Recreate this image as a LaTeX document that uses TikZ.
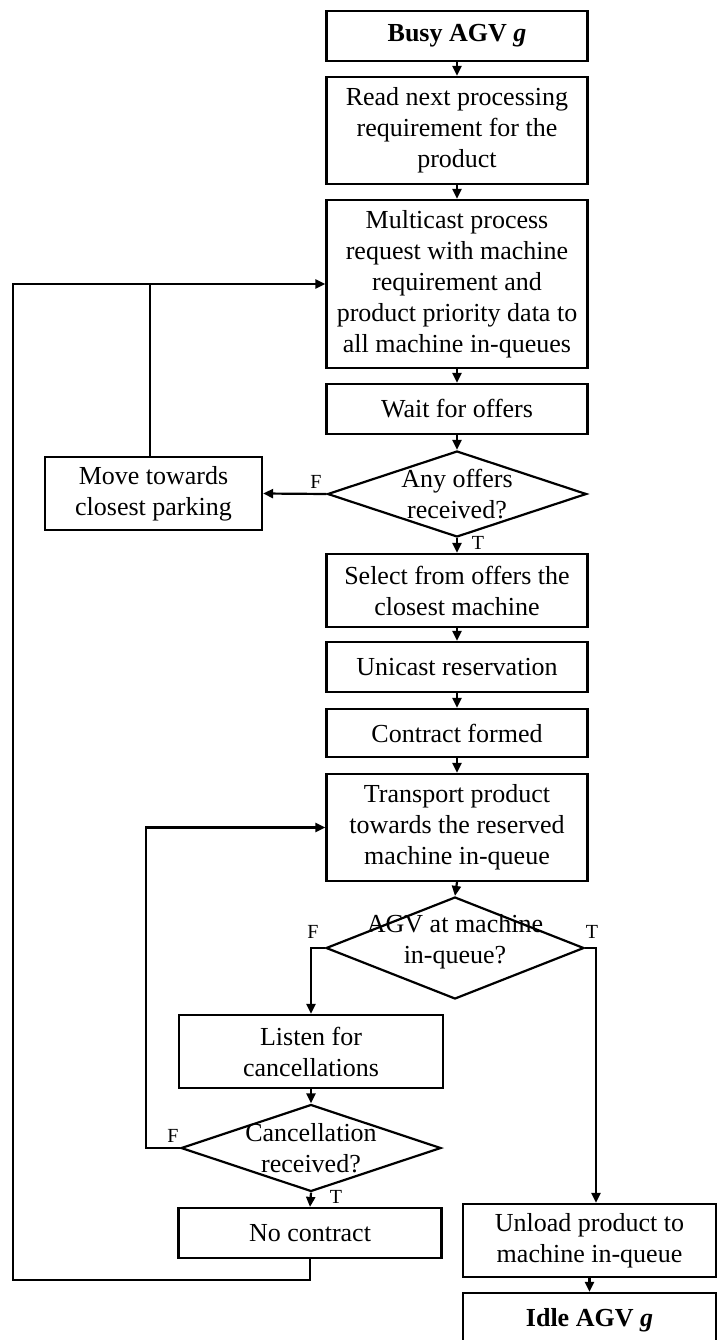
\documentclass[tikz,border=0pt]{standalone}
\usepackage{fontspec}
\setmainfont{Liberation Serif}
\usetikzlibrary{shapes.geometric,arrows.meta}
\begin{document}
\begin{tikzpicture}[x=1pt,y=-1pt,
  txt/.style={font=\fontsize{26}{31}\selectfont},
  box/.style={draw,line width=2.2pt,align=center,inner sep=2pt,txt,minimum width=261pt},
  dia/.style={draw,diamond,line width=2.2pt,inner sep=0pt},
  dtext/.style={align=center,inner sep=0pt,txt},
  lab/.style={font=\fontsize{20}{22}\selectfont,inner sep=0pt},
  ln/.style={line width=2.2pt},
  arr/.style={line width=2.2pt,-{Triangle[length=10pt,width=9pt]}}]
\fill[white] (0,0) rectangle (717,1340);
\clip (0,0) rectangle (717,1340);
\useasboundingbox (0,0) rectangle (717,1340);

\node[box,minimum height=50pt] (busy) at (457,36) {\textbf{Busy AGV \textit{g}}};
\node[box,minimum height=107pt] (read) at (457,130.5) {Read next processing\\requirement for the\\product};
\node[box,minimum height=168pt] (multi) at (457,284) {Multicast process\\request with machine\\requirement and\\product priority data to\\all machine in-queues};
\node[box,minimum height=50pt] (wait) at (457,409) {Wait for offers};
\node[dia,minimum width=259pt,minimum height=86pt] (d1) at (457,494) {};
\node[dtext] (d1t) at (d1.center) {Any offers\\received?};
\node[box,minimum width=217pt,minimum height=73pt] (move) at (153.5,493.5) {Move towards\\closest parking};
\node[box,minimum height=73pt] (select) at (457,590.5) {Select from offers the\\closest machine};
\node[box,minimum height=50pt] (uni) at (457,667) {Unicast reservation};
\node[box,minimum height=48pt] (contract) at (457,733) {Contract formed};
\node[box,minimum height=107pt] (trans) at (457,827.5) {Transport product\\towards the reserved\\machine in-queue};
\node[dia,minimum width=258pt,minimum height=102pt] (d2) at (455,948) {};
\node[dtext] (d2t) at ([yshift=6pt]d2.center) {AGV at machine\\in-queue?};
\node[box,minimum width=264pt,minimum height=73pt] (listen) at (311,1051.5) {Listen for\\cancellations};
\node[dia,minimum width=260pt,minimum height=87pt] (d3) at (311,1148) {};
\node[dtext] (d3t) at (d3.center) {Cancellation\\received?};
\node[box,minimum width=263pt,minimum height=50pt] (noc) at (310,1233) {No contract};
\node[box,minimum width=253pt,minimum height=73pt] (unload) at (589.5,1240.5) {Unload product to\\machine in-queue};
\node[box,minimum width=253pt,minimum height=54pt] (idle) at (589.5,1320) {\textbf{Idle AGV \textit{g}}};

\node[lab] (f1) at (316,482) {F};
\node[lab] (t1) at (478,543) {T};
\node[lab] (f2) at (313,932) {F};
\node[lab] (t2) at (592,932) {T};
\node[lab] (f3) at (173,1136) {F};
\node[lab] (t3) at (336,1197) {T};

\coordinate (c1) at (13,284);
\coordinate (c2) at (13,1280);
\coordinate (c3) at (310,1280);
\coordinate (c4) at (150,284);
\coordinate (c5) at (311,948);
\coordinate (c6) at (596,948);
\coordinate (c7) at (146,1148);
\coordinate (c8) at (146,827.5);

\draw[arr] (busy) -- (read);
\draw[arr] (read) -- (multi);
\draw[arr] (multi) -- (wait);
\draw[arr] (wait) -- (d1);
\draw[arr] (d1.west) -- (move.east);
\draw[arr] (d1.south) -- (select);
\draw[arr] (select) -- (uni);
\draw[arr] (uni) -- (contract);
\draw[arr] (contract) -- (trans);
\draw[arr] (trans.south) -- (d2.north);
\draw[arr] (d2.west) -- (c5) -- (listen.north -| c5);
\draw[arr] (d2.east) -- (c6) -- (unload.north -| c6);
\draw[arr] (listen.south) -- (d3.north);
\draw[arr] (d3.west) -- (c7) -- (c8) -- (trans.west);
\draw[arr] (d3.south) -- (noc.north);
\draw[arr] (noc.south) -- (c3) -- (c2) -- (c1) -- (multi.west);
\draw[ln] (move.north -| c4) -- (c4);
\draw[arr] (unload) -- (idle);
\end{tikzpicture}
\end{document}
